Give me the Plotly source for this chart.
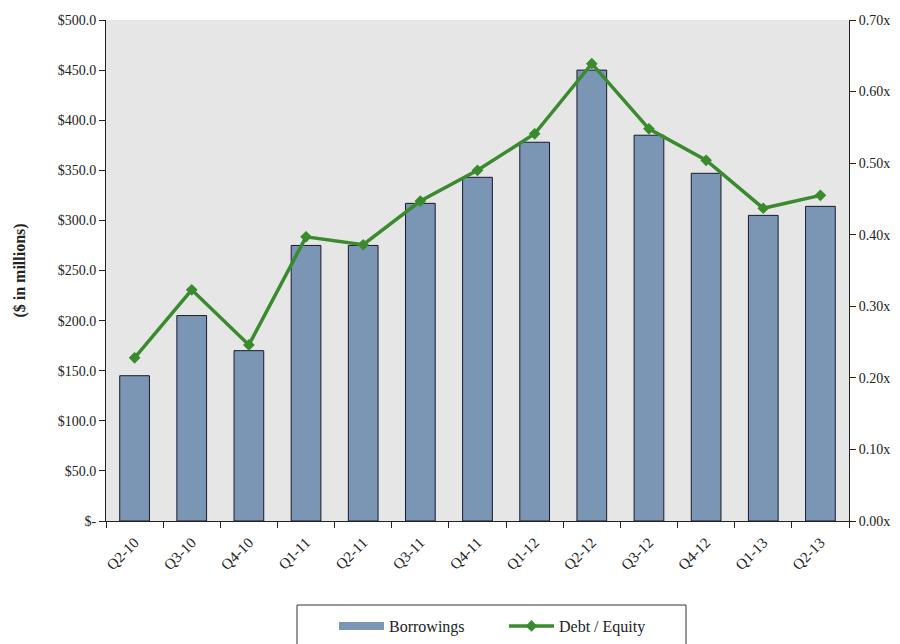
import plotly.graph_objects as go

quarters = ["Q2-10", "Q3-10", "Q4-10", "Q1-11", "Q2-11", "Q3-11", "Q4-11",
            "Q1-12", "Q2-12", "Q3-12", "Q4-12", "Q1-13", "Q2-13"]
borrowings = [145, 205, 170, 275, 275, 317, 343, 378, 450, 385, 347, 305, 314]
debt_equity = [0.228, 0.323, 0.246, 0.397, 0.386, 0.447, 0.490, 0.541, 0.639,
               0.548, 0.504, 0.437, 0.455]

left_ticks = [0, 50, 100, 150, 200, 250, 300, 350, 400, 450, 500]
left_labels = ["$-"] + ["${:.1f}".format(v) for v in left_ticks[1:]]
right_ticks = [0, 0.1, 0.2, 0.3, 0.4, 0.5, 0.6, 0.7]
right_labels = ["{:.2f}x".format(v) for v in right_ticks]

font = "Liberation Serif, Times New Roman, serif"
W, H = 900, 644
L, R, T, B = 106, 51, 20, 123
pw, ph = W - L - R, H - T - B


def px_x(px):
    return (px - L) / pw


def px_y(py):
    return (H - B - py) / ph


bar_color = "#7b96b4"
green = "#3a8a2e"

fig = go.Figure()
fig.add_trace(go.Bar(
    x=quarters, y=borrowings, name="Borrowings", showlegend=False,
    marker=dict(color=bar_color, line=dict(color="#1a1a2a", width=1)),
))
fig.add_trace(go.Scatter(
    x=[None], y=[None], name="Borrowings", mode="lines",
    line=dict(color=bar_color, width=8), hoverinfo="skip",
))
fig.add_trace(go.Scatter(
    x=quarters, y=debt_equity, name="Debt / Equity", yaxis="y2",
    mode="lines+markers",
    line=dict(color=green, width=3.5),
    marker=dict(symbol="diamond", size=9, color=green),
))

fig.add_shape(
    type="rect", xref="paper", yref="paper",
    x0=px_x(297), x1=px_x(686), y0=px_y(605), y1=px_y(670),
    line=dict(color="#333", width=1), fillcolor="white", layer="below",
)

fig.update_layout(
    width=W, height=H,
    margin=dict(l=L, r=R, t=T, b=B),
    paper_bgcolor="white",
    plot_bgcolor="#e6e6e6",
    font=dict(family=font, size=14, color="#222"),
    bargap=0.48,
    showlegend=True,
    legend=dict(
        orientation="h", x=334 / W, xanchor="left", xref="container",
        y=1 - 609 / H, yanchor="top", yref="container",
        borderwidth=0, bgcolor="rgba(0,0,0,0)",
        font=dict(family=font, size=16, color="#222"),
        entrywidth=110, itemwidth=45,
    ),
    xaxis=dict(
        range=[-0.5, len(quarters) - 0.5],
        showline=True, linecolor="#222", linewidth=1,
        ticks="outside", tickson="boundaries", ticklen=6, tickcolor="#222",
        tickangle=-45, tickfont=dict(size=15), ticklabelstandoff=6,
        showgrid=False, automargin=False,
    ),
    yaxis=dict(
        range=[0, 500], tickvals=left_ticks, ticktext=left_labels,
        showline=True, linecolor="#222", linewidth=1,
        ticks="outside", ticklen=6, tickcolor="#222",
        showgrid=False, zeroline=False, automargin=False,
        title=dict(text="<b>($ in millions)</b>", font=dict(size=16), standoff=28),
    ),
    yaxis2=dict(
        range=[0, 0.70], tickvals=right_ticks, ticktext=right_labels,
        overlaying="y", side="right",
        showline=True, linecolor="#222", linewidth=1,
        ticks="outside", ticklen=6, tickcolor="#222",
        showgrid=False, zeroline=False, automargin=False,
    ),
)

fig.write_html("out.html", config={"displayModeBar": False},
               post_script="document.body.style.margin='0px';")
